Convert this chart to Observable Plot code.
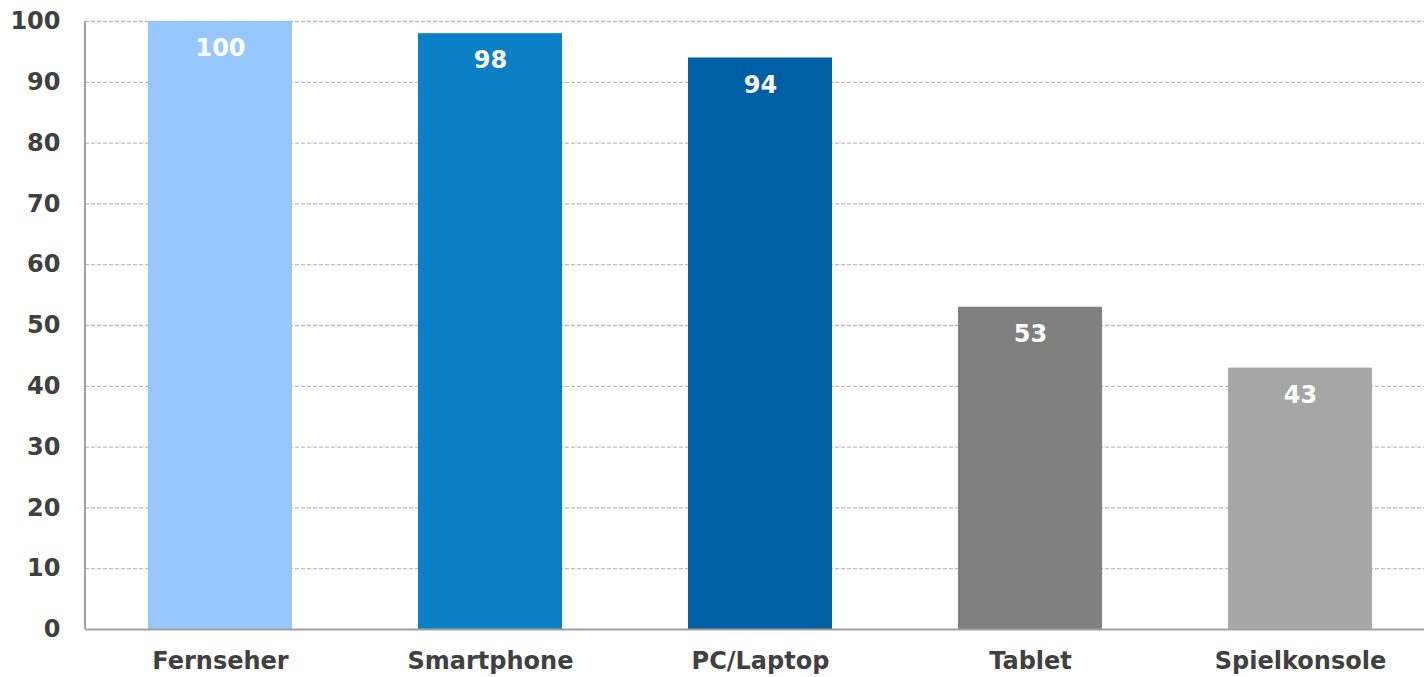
<!DOCTYPE html>
<html><head><meta charset="utf-8">
<script src="https://cdn.jsdelivr.net/npm/d3@7"></script>
<script src="https://cdn.jsdelivr.net/npm/@observablehq/plot@0.6"></script>
<style>body{margin:0;background:#fff;overflow:hidden}</style>
</head><body><div id="chart"></div>
<script>
const categories = ["Fernseher", "Smartphone", "PC/Laptop", "Tablet", "Spielkonsole"];
const values = [100, 98, 94, 53, 43];
const colors = ["#96C8FF", "#0C80C6", "#0060A5", "#808080", "#A6A6A6"];
const yTicks = [0, 10, 20, 30, 40, 50, 60, 70, 80, 90, 100];

const data = categories.map((c, i) => ({cat: c, value: values[i], color: colors[i]}));
const font = "'DejaVu Sans', Verdana, sans-serif";

// left axis line drawn at the frame's left edge
function leftAxisLine(index, scales, values, dims) {
  const g = document.createElementNS("http://www.w3.org/2000/svg", "line");
  g.setAttribute("x1", dims.marginLeft);
  g.setAttribute("x2", dims.marginLeft);
  g.setAttribute("y1", dims.marginTop);
  g.setAttribute("y2", dims.height - dims.marginBottom);
  g.setAttribute("stroke", "#a0a0a0");
  g.setAttribute("stroke-width", 2);
  return g;
}

const chart = Plot.plot({
  width: 1424, height: 677,
  marginTop: 21, marginBottom: 48, marginLeft: 85, marginRight: 0,
  style: {fontFamily: font, background: "#fff"},
  x: {domain: categories, range: [85, 1435], paddingInner: 0.467, paddingOuter: 0.233, label: null},
  y: {domain: [0, 100], ticks: yTicks, label: null},
  marks: [
    Plot.ruleY(yTicks.filter(d => d > 0), {stroke: "#bdbdbd", strokeWidth: 1.3, strokeDasharray: "4,2", strokeOpacity: 1}),
    Plot.barY(data, {x: "cat", y: "value", fill: "color"}),
    Plot.text(data, {x: "cat", y: "value", text: d => String(d.value), fill: "#fff", fontWeight: "bold", fontSize: 24, dy: 27}),
    leftAxisLine,
    Plot.ruleY([0], {stroke: "#a0a0a0", strokeWidth: 2}),
    Plot.axisY({ticks: yTicks, tickSize: 0, tickPadding: 25, fontSize: 24, fontWeight: "bold", fill: "#404040", label: null}),
    Plot.axisX({tickSize: 0, tickPadding: 22, fontSize: 24, fontWeight: "bold", fill: "#404040", label: null})
  ]
});
document.getElementById("chart").appendChild(chart);
</script>
</body></html>
